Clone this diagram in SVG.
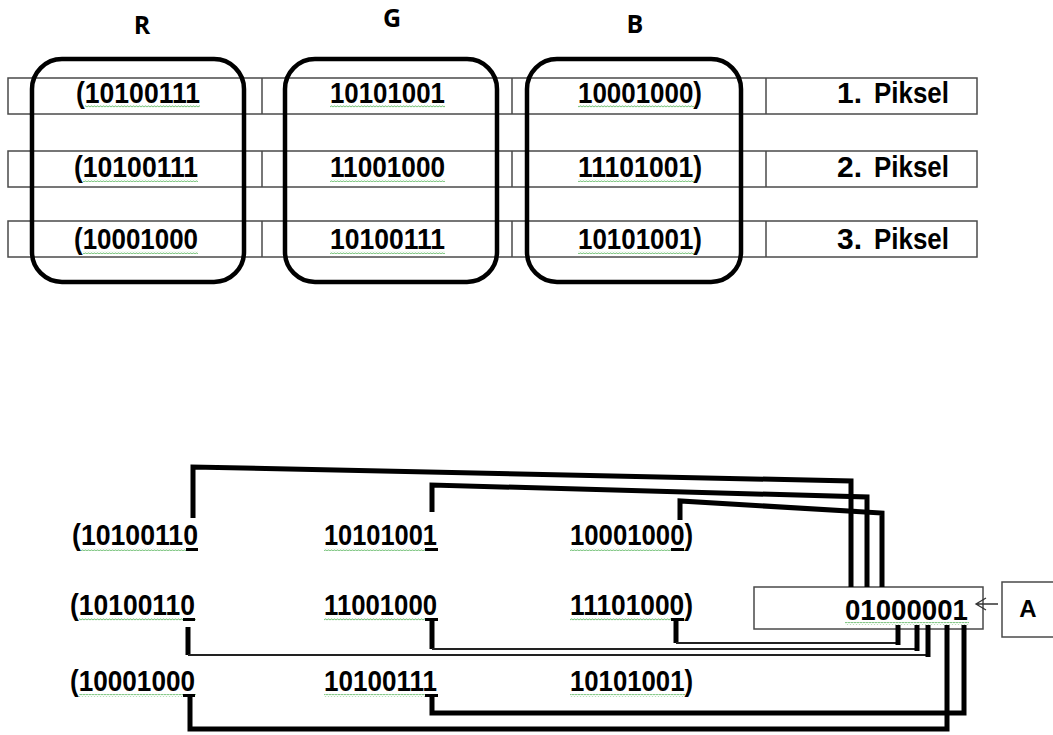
<svg xmlns="http://www.w3.org/2000/svg" width="1053" height="735" viewBox="0 0 1053 735">
<style>
.cell{fill:none;stroke:#4a4a4a;stroke-width:1.5}
.grp{fill:none;stroke:#000;stroke-width:4.5}
.num{font-family:"Liberation Sans",Arial,sans-serif;font-size:30px;font-weight:bold;fill:#000}
.pk{font-family:"Liberation Sans",Arial,sans-serif;font-size:30px;font-weight:bold;fill:#000}
.hd{font-family:"Open Sans","Liberation Sans",sans-serif;font-size:25px;font-weight:bold;fill:#000}
.wavy{fill:url(#wv)}
.mark{fill:#000}
.thick{fill:none;stroke:#000;stroke-width:5;stroke-linejoin:miter}
.thin{fill:none;stroke:#222;stroke-width:1.8}
</style>
<defs>
<pattern id="wv" width="3" height="3" patternUnits="userSpaceOnUse">
<path d="M0,2.3 L1.5,0.7 L3,2.3" fill="none" stroke="#4caf50" stroke-width="0.9"/>
</pattern>
</defs>
<rect width="1053" height="735" fill="#fff"/>

<!-- headers -->
<g id="headers">
<text class="hd" x="142" y="34" text-anchor="middle">R</text>
<text class="hd" x="392" y="27" text-anchor="middle">G</text>
<text class="hd" x="635" y="33" text-anchor="middle">B</text>
</g>

<!-- table rows -->
<g id="row1">
<rect class="cell" x="8" y="78" width="969" height="36"/>
<line class="cell" x1="262" y1="78" x2="262" y2="114"/>
<line class="cell" x1="512" y1="78" x2="512" y2="114"/>
<line class="cell" x1="766" y1="78" x2="766" y2="114"/>
<text class="num" x="76" y="103" textLength="124" lengthAdjust="spacingAndGlyphs">(10100111</text>
<rect class="wavy" x="85" y="105" width="115" height="3"/>
<text class="num" x="330" y="103" textLength="115" lengthAdjust="spacingAndGlyphs">10101001</text>
<rect class="wavy" x="330" y="105" width="115" height="3"/>
<text class="num" x="578" y="103" textLength="124" lengthAdjust="spacingAndGlyphs">10001000)</text>
<rect class="wavy" x="578" y="105" width="116" height="3"/>
<text class="pk" y="103"><tspan x="837">1. </tspan><tspan x="874" textLength="75" lengthAdjust="spacingAndGlyphs">Piksel</tspan></text>
</g>
<g id="row2">
<rect class="cell" x="8" y="151" width="969" height="36"/>
<line class="cell" x1="262" y1="151" x2="262" y2="187"/>
<line class="cell" x1="512" y1="151" x2="512" y2="187"/>
<line class="cell" x1="766" y1="151" x2="766" y2="187"/>
<text class="num" x="74" y="177" textLength="124" lengthAdjust="spacingAndGlyphs">(10100111</text>
<rect class="wavy" x="83" y="179" width="115" height="3"/>
<text class="num" x="330" y="177" textLength="115" lengthAdjust="spacingAndGlyphs">11001000</text>
<rect class="wavy" x="330" y="179" width="115" height="3"/>
<text class="num" x="578" y="177" textLength="124" lengthAdjust="spacingAndGlyphs">11101001)</text>
<rect class="wavy" x="578" y="179" width="116" height="3"/>
<text class="pk" y="177"><tspan x="837">2. </tspan><tspan x="874" textLength="75" lengthAdjust="spacingAndGlyphs">Piksel</tspan></text>
</g>
<g id="row3">
<rect class="cell" x="8" y="221" width="969" height="36"/>
<line class="cell" x1="262" y1="221" x2="262" y2="257"/>
<line class="cell" x1="512" y1="221" x2="512" y2="257"/>
<line class="cell" x1="766" y1="221" x2="766" y2="257"/>
<text class="num" x="74" y="249" textLength="124" lengthAdjust="spacingAndGlyphs">(10001000</text>
<rect class="wavy" x="83" y="251" width="115" height="3"/>
<text class="num" x="330" y="249" textLength="115" lengthAdjust="spacingAndGlyphs">10100111</text>
<rect class="wavy" x="330" y="251" width="115" height="3"/>
<text class="num" x="578" y="249" textLength="124" lengthAdjust="spacingAndGlyphs">10101001)</text>
<rect class="wavy" x="578" y="251" width="116" height="3"/>
<text class="pk" y="249"><tspan x="837">3. </tspan><tspan x="874" textLength="75" lengthAdjust="spacingAndGlyphs">Piksel</tspan></text>
</g>

<!-- channel groups -->
<g id="group-R"><rect class="grp" x="32" y="59" width="212" height="223" rx="30"/></g>
<g id="group-G"><rect class="grp" x="285" y="59" width="212" height="223" rx="30"/></g>
<g id="group-B"><rect class="grp" x="527" y="59" width="214" height="223" rx="30"/></g>

<!-- bottom bytes -->
<g id="b-r1"><text class="num" x="72" y="545" textLength="126" lengthAdjust="spacingAndGlyphs">(10100110</text><rect class="wavy" x="81" y="548" width="117" height="3"/><rect class="mark" x="186" y="548" width="12" height="3"/></g>
<g id="b-g1"><text class="num" x="324" y="545" textLength="113" lengthAdjust="spacingAndGlyphs">10101001</text><rect class="wavy" x="324" y="548" width="114" height="3"/><rect class="mark" x="425" y="548" width="13" height="3"/></g>
<g id="b-b1"><text class="num" x="570" y="545" textLength="123" lengthAdjust="spacingAndGlyphs">10001000)</text><rect class="wavy" x="570" y="548" width="115" height="3"/><rect class="mark" x="671" y="548" width="13" height="3"/></g>

<g id="b-r2"><text class="num" x="70" y="615" textLength="125" lengthAdjust="spacingAndGlyphs">(10100110</text><rect class="wavy" x="79" y="618" width="117" height="3"/><rect class="mark" x="183" y="618" width="12" height="3"/></g>
<g id="b-g2"><text class="num" x="324" y="615" textLength="113" lengthAdjust="spacingAndGlyphs">11001000</text><rect class="wavy" x="324" y="618" width="114" height="3"/><rect class="mark" x="425" y="618" width="13" height="3"/></g>
<g id="b-b2"><text class="num" x="570" y="615" textLength="123" lengthAdjust="spacingAndGlyphs">11101000)</text><rect class="wavy" x="570" y="618" width="115" height="3"/><rect class="mark" x="671" y="618" width="13" height="3"/></g>

<g id="b-r3"><text class="num" x="70" y="691" textLength="125" lengthAdjust="spacingAndGlyphs">(10001000</text><rect class="wavy" x="79" y="694" width="117" height="3"/><rect class="mark" x="183" y="694" width="12" height="3"/></g>
<g id="b-g3"><text class="num" x="324" y="691" textLength="113" lengthAdjust="spacingAndGlyphs">10100111</text><rect class="wavy" x="324" y="694" width="114" height="3"/><rect class="mark" x="425" y="694" width="13" height="3"/></g>
<g id="b-b3"><text class="num" x="570" y="691" textLength="123" lengthAdjust="spacingAndGlyphs">10101001)</text><rect class="wavy" x="570" y="694" width="115" height="3"/></g>

<!-- result box -->
<g id="result">
<rect class="cell" x="754" y="587" width="229" height="42"/>
<text class="num" x="845" y="620" textLength="123" lengthAdjust="spacingAndGlyphs">01000001</text>
<rect class="wavy" x="845" y="622" width="124" height="3"/>
</g>

<g id="label-A">
<rect class="cell" x="1002" y="582" width="60" height="55"/>
<text class="pk" x="1028" y="617" text-anchor="middle" style="font-size:24px">A</text>
</g>

<!-- connectors -->
<g id="connectors">
<path class="thick" d="M193,518 V467 L851,481 V587"/>
<path class="thick" d="M432,512 V485 L867,497 V587"/>
<path class="thick" d="M680,520 V501 L882,513 V587"/>

<path class="thick" d="M676,621 V643"/>
<path class="thin" d="M676,643 H898"/>
<path class="thick" d="M898,645 V625"/>

<path class="thick" d="M432,621 V649"/>
<path class="thin" d="M432,649 H917"/>
<path class="thick" d="M917,651 V625"/>

<path class="thick" d="M188,627 V655"/>
<path class="thin" d="M188,655 H928"/>
<path class="thick" d="M928,657 V625"/>

<path class="thick" d="M432,697 V713 H964 V625"/>
<path class="thick" d="M190,697 V729 H947 V625"/>

<path d="M998,604 H977 M986,598 L976,604 L986,610" fill="none" stroke="#333" stroke-width="1.3"/>
</g>
</svg>
